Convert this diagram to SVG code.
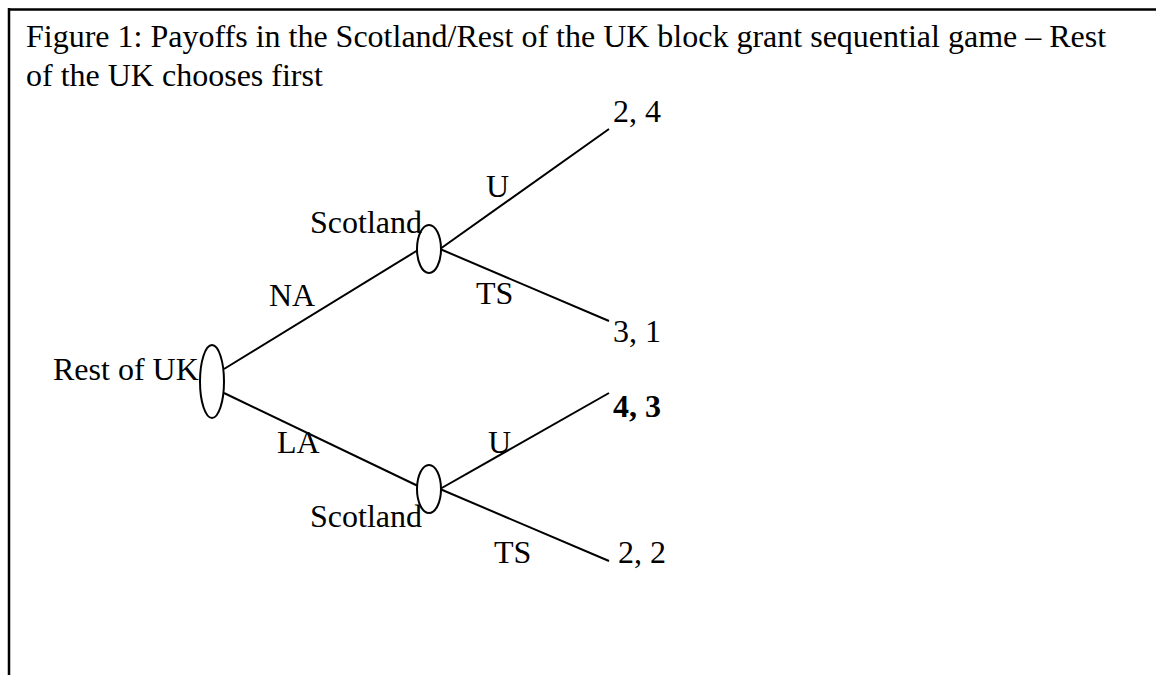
<svg xmlns="http://www.w3.org/2000/svg" width="1156" height="675" viewBox="0 0 1156 675">
<style>
text{font-family:"Liberation Serif","Times New Roman",serif;font-size:32px;fill:#000}
.b{font-weight:bold}
.n{fill:#fff;stroke:#000;stroke-width:2}
.e{stroke:#000;stroke-width:2;fill:none}
</style>
<rect width="1156" height="675" fill="#fff"/>
<g id="frame">
<line x1="9" y1="9.5" x2="1156" y2="9.5" stroke="#000" stroke-width="2.5"/>
<line x1="9" y1="8" x2="9" y2="675" stroke="#000" stroke-width="2.5"/>
</g>
<g id="title">
<text x="26" y="47">Figure 1: Payoffs in the Scotland/Rest of the UK block grant sequential game – Rest</text>
<text x="26" y="86">of the UK chooses first</text>
</g>
<g id="connectors">
<line class="e" x1="224" y1="369" x2="418" y2="250"/>
<line class="e" x1="224" y1="393" x2="418" y2="486"/>
<line class="e" x1="440" y1="249" x2="609" y2="129"/>
<line class="e" x1="440" y1="249" x2="609" y2="321"/>
<line class="e" x1="440" y1="489" x2="609" y2="393"/>
<line class="e" x1="440" y1="489" x2="609" y2="561"/>
<text x="269" y="306">NA</text>
<text x="277" y="453">LA</text>
<text x="486" y="197">U</text>
<text x="476" y="304">TS</text>
<text x="488" y="453">U</text>
<text x="494" y="563">TS</text>
</g>
<g id="root">
<ellipse class="n" cx="212" cy="381.5" rx="12" ry="36.5"/>
<text x="53" y="380">Rest of UK</text>
</g>
<g id="scotland-upper">
<ellipse class="n" cx="429" cy="249" rx="12" ry="24"/>
<text x="310" y="233">Scotland</text>
</g>
<g id="scotland-lower">
<ellipse class="n" cx="429" cy="489" rx="12" ry="24"/>
<text x="310" y="527">Scotland</text>
</g>
<g id="payoff-1"><text x="613" y="122">2, 4</text></g>
<g id="payoff-2"><text x="613" y="342">3, 1</text></g>
<g id="payoff-3"><text class="b" x="613" y="417">4, 3</text></g>
<g id="payoff-4"><text x="618" y="563">2, 2</text></g>
</svg>
